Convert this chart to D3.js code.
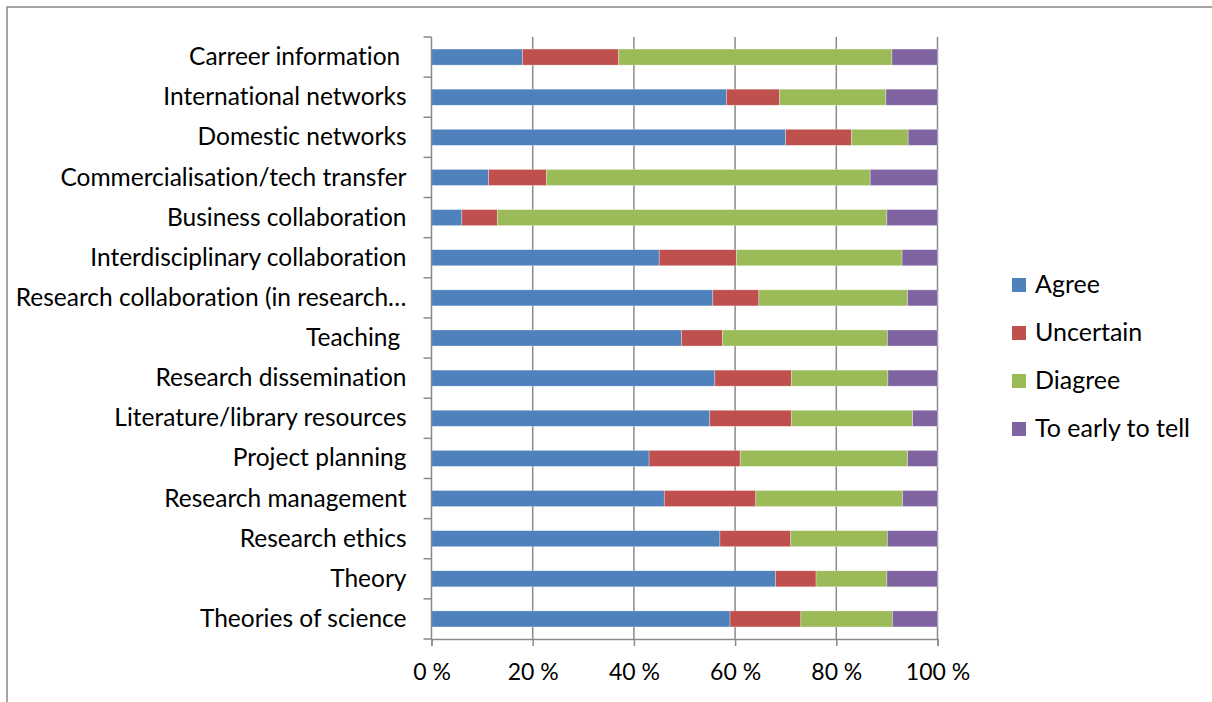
<!DOCTYPE html>
<html>
<head>
<meta charset="utf-8">
<script src="https://cdn.jsdelivr.net/npm/d3@7"></script>
<style>
  body { margin: 0; background: #fff; }
  svg { display: block; }
  svg text { font-family: Lato, "Open Sans", sans-serif; fill: #000; font-variant-ligatures: none; }
</style>
</head>
<body>
<div id="chart"></div>
<script>
// categories top to bottom, shares in percent
let categories = [
    "Carreer information ",
    "International networks",
    "Domestic networks",
    "Commercialisation/tech transfer",
    "Business collaboration",
    "Interdisciplinary collaboration",
    "Research collaboration (in research\u2026",
    "Teaching ",
    "Research dissemination",
    "Literature/library resources",
    "Project planning",
    "Research management",
    "Research ethics",
    "Theory",
    "Theories of science"
];
let agree     = [18, 58.3, 70, 11.3, 6, 45, 55.6, 49.4, 56, 55, 43, 46, 57, 68, 59];
let uncertain = [19, 10.5, 13, 11.4, 7, 15.3, 9.1, 8.1, 15.1, 16.1, 18, 18.1, 14, 8, 14];
let disagree  = [54, 21, 11.2, 64, 77, 32.7, 29.4, 32.6, 19.1, 24, 33.1, 29, 19.1, 14, 18.1];
let tooEarly  = [9, 10.2, 5.8, 13.3, 10, 7, 5.9, 9.9, 9.8, 4.9, 5.9, 6.9, 9.9, 10, 8.9];

let seriesNames = ["Agree", "Uncertain", "Diagree", "To early to tell"];
let colors = ["#4f81bd", "#c0504d", "#9bbb59", "#8064a2"];
let xTicks = [0, 20, 40, 60, 80, 100];

let width = 1212;
let height = 702;

let rows = categories.map(function(c, i) {
    return {cat: c, Agree: agree[i], Uncertain: uncertain[i], Diagree: disagree[i], "To early to tell": tooEarly[i]};
});

let svg = d3.select("#chart").append("svg").attr("width", width).attr("height", height);

// outer frame, only top and left edges are visible in the picture
svg.append("path")
    .attr("d", `M7,${height} L7,7 L${width},7`)
    .attr("fill", "none").attr("stroke", "#888").attr("stroke-width", 1.5);

let margin = {top: 37, left: 431.5, right: 274.5, bottom: 63};
let innerWidth = width - margin.left - margin.right;
let innerHeight = height - margin.top - margin.bottom;

let xScale = d3.scaleLinear().domain([0, 100]).range([0, innerWidth]);
let yScale = d3.scaleBand().domain(categories).range([0, innerHeight]).paddingInner(0.6).paddingOuter(0.3);

let g = svg.append("g").attr("transform", `translate(${margin.left}, ${margin.top})`);

// vertical gridlines
g.selectAll(".grid").data(xTicks.slice(1))
    .enter().append("line")
    .attr("x1", d => xScale(d)).attr("x2", d => xScale(d))
    .attr("y1", 0).attr("y2", innerHeight)
    .attr("stroke", "#8a8a8a").attr("stroke-width", 1.5);

// stacked bars
let stack = d3.stack().keys(seriesNames);
let stacked = stack(rows);

g.selectAll(".series").data(stacked)
    .enter().append("g")
    .attr("fill", (d, i) => colors[i])
    .selectAll("rect").data(d => d)
    .enter().append("rect")
    .attr("x", d => xScale(d[0]))
    .attr("width", d => xScale(d[1]) - xScale(d[0]))
    .attr("y", d => yScale(d.data.cat))
    .attr("height", yScale.bandwidth())
    .attr("stroke", "#ffffff").attr("stroke-opacity", 0.5).attr("stroke-width", 0.6);

// y axis: line + ticks at band boundaries
let boundaries = d3.range(categories.length + 1).map(i => i * innerHeight / categories.length);
g.append("line")
    .attr("x1", 0).attr("x2", 0).attr("y1", 0).attr("y2", innerHeight)
    .attr("stroke", "#8a8a8a").attr("stroke-width", 1.5);
g.selectAll(".ytick").data(boundaries)
    .enter().append("line")
    .attr("x1", -8).attr("x2", 0)
    .attr("y1", d => d).attr("y2", d => d)
    .attr("stroke", "#8a8a8a").attr("stroke-width", 1.5);

g.selectAll(".ylabel").data(categories)
    .enter().append("text")
    .attr("x", -25)
    .attr("y", d => yScale(d) + yScale.bandwidth() / 2)
    .attr("dy", "0.33em")
    .attr("text-anchor", "end")
    .style("white-space", "pre")
    .style("font-size", "24.5px")
    .text(d => d);

// x axis
let xAxis = g.append("g").attr("transform", `translate(0, ${innerHeight})`)
    .call(d3.axisBottom(xScale).tickValues(xTicks).tickSize(7).tickFormat(d => d + " %"));
xAxis.select(".domain").attr("stroke", "#8a8a8a").attr("stroke-width", 1.5);
xAxis.selectAll(".tick line").attr("stroke", "#8a8a8a").attr("stroke-width", 1.5);
xAxis.selectAll(".tick text")
    .attr("y", 25)
    .style("font-size", "23px")
    .style("font-family", "Lato, 'Open Sans', sans-serif");

// legend
let legend = svg.append("g").attr("transform", "translate(1012, 285)");
let items = legend.selectAll(".item").data(seriesNames)
    .enter().append("g")
    .attr("transform", (d, i) => `translate(0, ${i * 48})`);
items.append("rect")
    .attr("x", 0).attr("y", -7)
    .attr("width", 14).attr("height", 14)
    .attr("fill", (d, i) => colors[i]);
items.append("text")
    .attr("x", 23).attr("y", 0).attr("dy", "0.33em")
    .style("font-size", "25px")
    .text(d => d);
</script>
</body>
</html>
